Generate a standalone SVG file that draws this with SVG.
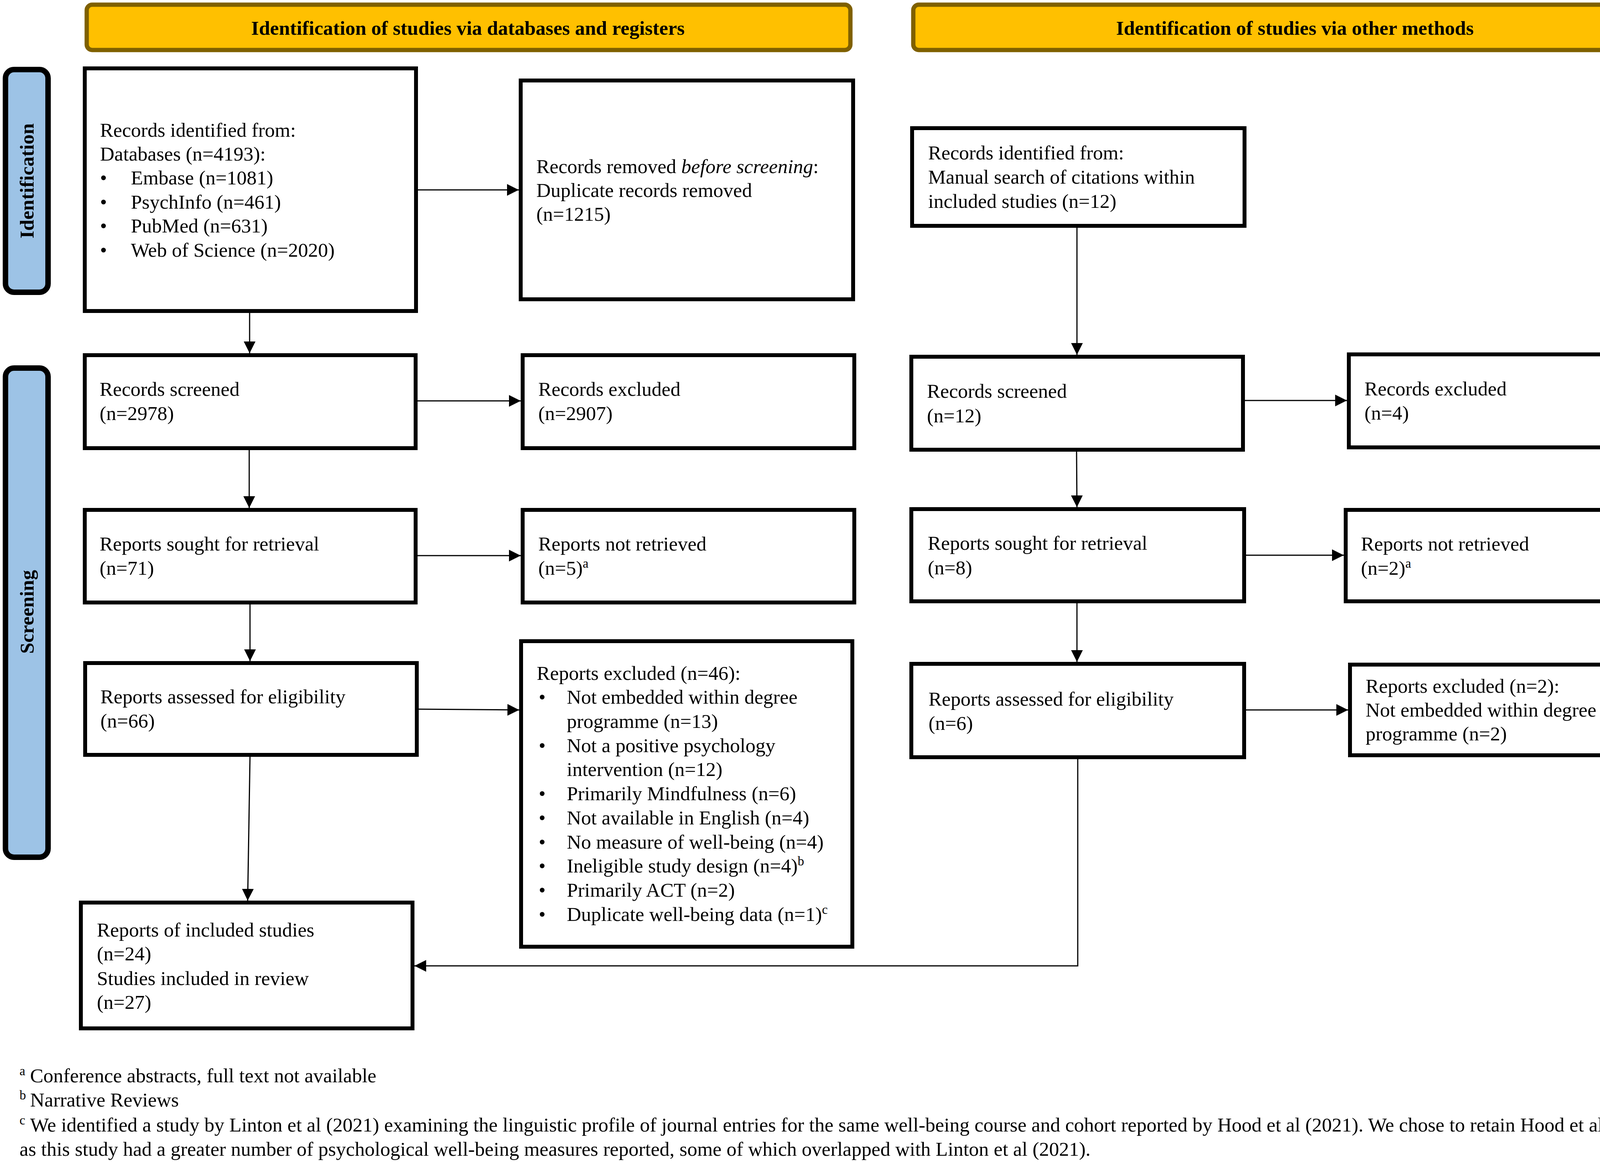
<svg xmlns="http://www.w3.org/2000/svg" width="4316" height="2974" viewBox="0 0 4316 2974">
<defs>
<marker id="arr" markerUnits="userSpaceOnUse" markerWidth="32" markerHeight="32" refX="30" refY="15" orient="auto">
<path d="M0,0 L30,15 L0,30 z" fill="#000"/>
</marker>
<style>
text{font-family:"Liberation Serif","Times New Roman",serif;font-size:51px;fill:#000}
.hd rect{fill:#FFC000;stroke:#7F6000;stroke-width:11}
.hd text{font-weight:bold;text-anchor:middle}
.sb rect{fill:#9DC3E6;stroke:#000;stroke-width:14}
.sb text{font-weight:bold;text-anchor:middle}
.box rect{fill:#fff;stroke:#000;stroke-width:10}
.cn line,.cn polyline{stroke:#000;stroke-width:3;fill:none;marker-end:url(#arr)}
.sup{font-size:33px}
</style>
</defs>
<rect width="4316" height="2974" fill="#fff"/>

<g id="header-db" class="hd"><rect x="222" y="12" width="1955" height="116" rx="14"/><text x="1198" y="89">Identification of studies via databases and registers</text></g>
<g id="header-other" class="hd"><rect x="2338" y="12" width="1955" height="116" rx="14"/><text x="3315" y="89">Identification of studies via other methods</text></g>

<g id="side-identification" class="sb"><rect x="14" y="178" width="109" height="570" rx="22"/><text transform="translate(86,463) rotate(-90)">Identification</text></g>
<g id="side-screening" class="sb"><rect x="14" y="942" width="109" height="1252" rx="22"/><text transform="translate(86,1566) rotate(-90)">Screening</text></g>

<g id="records-identified" class="box"><rect x="217" y="175" width="848" height="621"/>
<text x="256" y="350">Records identified from:</text>
<text x="256" y="411">Databases (n=4193):</text>
<text x="256" y="472">•</text><text x="335" y="472">Embase (n=1081)</text>
<text x="256" y="534">•</text><text x="335" y="534">PsychInfo (n=461)</text>
<text x="256" y="595">•</text><text x="335" y="595">PubMed (n=631)</text>
<text x="256" y="657">•</text><text x="335" y="657">Web of Science (n=2020)</text>
</g>
<g id="records-removed" class="box"><rect x="1333" y="206" width="851" height="560"/>
<text x="1373" y="443">Records removed <tspan font-style="italic">before screening</tspan>:</text>
<text x="1373" y="504">Duplicate records removed</text>
<text x="1373" y="565">(n=1215)</text>
</g>
<g id="manual-search" class="box"><rect x="2335" y="328" width="851" height="250"/>
<text x="2376" y="408">Records identified from:</text>
<text x="2376" y="470">Manual search of citations within</text>
<text x="2376" y="532">included studies (n=12)</text>
</g>

<g id="records-screened" class="box"><rect x="217" y="909" width="847" height="238"/>
<text x="255" y="1013">Records screened</text><text x="255" y="1075">(n=2978)</text></g>
<g id="records-excluded" class="box"><rect x="1338" y="909" width="849" height="238"/>
<text x="1378" y="1013">Records excluded</text><text x="1378" y="1075">(n=2907)</text></g>
<g id="reports-sought" class="box"><rect x="217" y="1305" width="847" height="237"/>
<text x="255" y="1409">Reports sought for retrieval</text><text x="255" y="1471">(n=71)</text></g>
<g id="reports-not-retrieved" class="box"><rect x="1338" y="1305" width="849" height="237"/>
<text x="1378" y="1409">Reports not retrieved</text><text x="1378" y="1471">(n=5)<tspan class="sup" dy="-18">a</tspan></text></g>
<g id="reports-assessed" class="box"><rect x="218" y="1697" width="849" height="235"/>
<text x="257" y="1800">Reports assessed for eligibility</text><text x="257" y="1862">(n=66)</text></g>
<g id="reports-excluded" class="box"><rect x="1334" y="1641" width="848" height="782"/>
<text x="1374" y="1740">Reports excluded (n=46):</text>
<text x="1379" y="1801">•</text><text x="1451" y="1801">Not embedded within degree</text>
<text x="1451" y="1863">programme (n=13)</text>
<text x="1379" y="1925">•</text><text x="1451" y="1925">Not a positive psychology</text>
<text x="1451" y="1986">intervention (n=12)</text>
<text x="1379" y="2048">•</text><text x="1451" y="2048">Primarily Mindfulness (n=6)</text>
<text x="1379" y="2110">•</text><text x="1451" y="2110">Not available in English (n=4)</text>
<text x="1379" y="2172">•</text><text x="1451" y="2172">No measure of well-being (n=4)</text>
<text x="1379" y="2233">•</text><text x="1451" y="2233">Ineligible study design (n=4)<tspan class="sup" dy="-18">b</tspan></text>
<text x="1379" y="2295">•</text><text x="1451" y="2295">Primarily ACT (n=2)</text>
<text x="1379" y="2357">•</text><text x="1451" y="2357">Duplicate well-being data (n=1)<tspan class="sup" dy="-18">c</tspan></text>
</g>
<g id="included" class="box"><rect x="207" y="2310" width="849" height="322"/>
<text x="248" y="2397">Reports of included studies</text>
<text x="248" y="2458">(n=24)</text>
<text x="248" y="2521">Studies included in review</text>
<text x="248" y="2582">(n=27)</text>
</g>

<g id="records-screened-other" class="box"><rect x="2333" y="913" width="849" height="238"/>
<text x="2373" y="1018">Records screened</text><text x="2373" y="1081">(n=12)</text></g>
<g id="records-excluded-other" class="box"><rect x="3453" y="907" width="850" height="238"/>
<text x="3493" y="1012">Records excluded</text><text x="3493" y="1074">(n=4)</text></g>
<g id="reports-sought-other" class="box"><rect x="2333" y="1303" width="852" height="236"/>
<text x="2375" y="1407">Reports sought for retrieval</text><text x="2375" y="1470">(n=8)</text></g>
<g id="reports-not-retrieved-other" class="box"><rect x="3445" y="1305" width="850" height="234"/>
<text x="3484" y="1409">Reports not retrieved</text><text x="3484" y="1471">(n=2)<tspan class="sup" dy="-18">a</tspan></text></g>
<g id="reports-assessed-other" class="box"><rect x="2333" y="1699" width="852" height="239"/>
<text x="2377" y="1806">Reports assessed for eligibility</text><text x="2377" y="1868">(n=6)</text></g>
<g id="reports-excluded-other" class="box"><rect x="3456" y="1701" width="851" height="232"/>
<text x="3496" y="1773">Reports excluded (n=2):</text>
<text x="3496" y="1834">Not embedded within degree</text>
<text x="3496" y="1895">programme (n=2)</text></g>

<g id="connectors" class="cn">
<line x1="1070" y1="486" x2="1328" y2="486"/>
<line x1="639" y1="801" x2="639" y2="904"/>
<line x1="1069" y1="1026" x2="1333" y2="1026"/>
<line x1="638" y1="1152" x2="638" y2="1300"/>
<line x1="1069" y1="1422" x2="1333" y2="1422"/>
<line x1="640" y1="1547" x2="640" y2="1692"/>
<line x1="1072" y1="1815" x2="1329" y2="1817"/>
<line x1="640" y1="1937" x2="634" y2="2305"/>
<line x1="2757" y1="583" x2="2757" y2="908"/>
<line x1="3187" y1="1025" x2="3448" y2="1025"/>
<line x1="2756" y1="1156" x2="2757" y2="1298"/>
<line x1="3190" y1="1421" x2="3440" y2="1421"/>
<line x1="2757" y1="1544" x2="2757" y2="1694"/>
<line x1="3190" y1="1817" x2="3451" y2="1817"/>
<polyline points="2759,1943 2759,2472 1061,2472"/>
</g>

<g id="footnotes">
<text x="50" y="2770"><tspan class="sup" dy="-18">a</tspan><tspan x="77" dy="18">Conference abstracts, full text not available</tspan></text>
<text x="50" y="2832"><tspan class="sup" dy="-18">b</tspan><tspan x="77" dy="18">Narrative Reviews</tspan></text>
<text x="50" y="2896"><tspan class="sup" dy="-18">c</tspan><tspan x="77" dy="18">We identified a study by Linton et al (2021) examining the linguistic profile of journal entries for the same well-being course and cohort reported by Hood et al (2021). We chose to retain Hood et al (2021)</tspan></text>
<text x="50" y="2958">as this study had a greater number of psychological well-being measures reported, some of which overlapped with Linton et al (2021).</text>
</g>
</svg>
